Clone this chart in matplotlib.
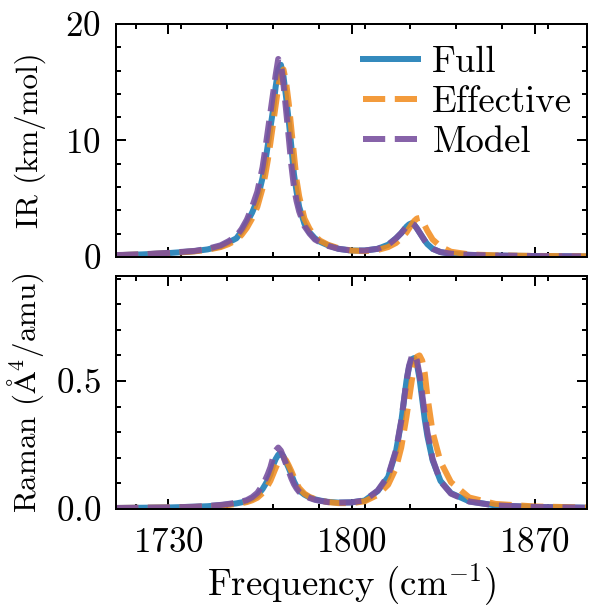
import matplotlib
matplotlib.use("Agg")
import matplotlib.pyplot as plt
from matplotlib.ticker import MultipleLocator

plt.rcParams["font.family"] = "serif"
plt.rcParams["font.serif"] = ["cmr10", "DejaVu Serif"]
plt.rcParams["mathtext.fontset"] = "cm"
plt.rcParams["axes.formatter.use_mathtext"] = True
plt.rcParams["font.size"] = 11

freq = [1710, 1720, 1730, 1740, 1745, 1750, 1753, 1756, 1758, 1760, 1762, 1764, 1766, 1767,
        1768, 1769, 1770, 1771, 1772, 1773, 1774, 1775, 1776, 1777, 1778, 1779, 1780, 1782,
        1784, 1786, 1788, 1791, 1795, 1800, 1805, 1810, 1814, 1817, 1819, 1821, 1822, 1823,
        1824, 1825, 1826, 1827, 1828, 1829, 1831, 1834, 1838, 1845, 1855, 1870, 1890]

# IR intensities (km/mol)
ir_full = [0.15, 0.22, 0.33, 0.5, 0.65, 0.92, 1.25, 1.6, 2.2, 2.95, 3.8, 4.9, 6.8, 8.1,
           9.6, 11.1, 12.6, 14.6, 16.1, 16.5, 15.5, 13.7, 11.7, 9.5, 7.1, 5.6, 4.3, 2.85,
           2.1, 1.6, 1.3, 1.0, 0.7, 0.55, 0.55, 0.7, 1.05, 1.6, 2.05, 2.6, 2.8, 2.9,
           2.75, 2.45, 2.1, 1.75, 1.4, 1.1, 0.7, 0.42, 0.28, 0.18, 0.12, 0.08, 0.05]
ir_eff = [0.15, 0.22, 0.32, 0.48, 0.62, 0.85, 1.1, 1.45, 1.9, 2.5, 3.3, 4.3, 5.9, 7.0,
          8.3, 9.8, 11.4, 13.0, 14.6, 15.7, 16.1, 15.0, 13.2, 11.0, 8.8, 6.6, 5.2, 3.3,
          2.4, 1.8, 1.4, 1.05, 0.75, 0.55, 0.5, 0.6, 0.85, 1.2, 1.6, 2.1, 2.45, 2.8,
          3.1, 3.3, 3.35, 3.1, 2.7, 2.25, 1.5, 0.9, 0.45, 0.22, 0.14, 0.09, 0.06]
ir_model = [0.16, 0.23, 0.35, 0.52, 0.7, 1.0, 1.35, 1.8, 2.4, 3.2, 4.3, 5.6, 7.7, 9.2,
            10.8, 12.4, 14.0, 15.6, 17.0, 16.6, 14.8, 12.6, 10.3, 7.9, 6.0, 4.8, 3.9, 2.65,
            2.0, 1.5, 1.25, 0.95, 0.7, 0.55, 0.55, 0.7, 1.05, 1.6, 2.05, 2.6, 2.8, 2.9,
            2.75, 2.45, 2.1, 1.75, 1.4, 1.1, 0.7, 0.42, 0.28, 0.18, 0.12, 0.08, 0.05]

# Raman activities (A^4/amu)
ram_full = [0.004, 0.005, 0.006, 0.009, 0.011, 0.015, 0.018, 0.022, 0.026, 0.031, 0.04, 0.053,
            0.078, 0.095, 0.113, 0.135, 0.17, 0.195, 0.212, 0.217, 0.205, 0.183, 0.16, 0.135,
            0.108, 0.088, 0.072, 0.056, 0.045, 0.038, 0.033, 0.028, 0.025, 0.026, 0.033, 0.07,
            0.125, 0.225, 0.34, 0.5, 0.555, 0.585, 0.59, 0.565, 0.51, 0.43, 0.35, 0.285,
            0.19, 0.11, 0.062, 0.03, 0.014, 0.008, 0.005]
ram_eff = [0.004, 0.005, 0.006, 0.008, 0.01, 0.013, 0.016, 0.02, 0.023, 0.027, 0.034, 0.044,
           0.062, 0.075, 0.092, 0.11, 0.135, 0.16, 0.183, 0.197, 0.2, 0.19, 0.17, 0.148,
           0.124, 0.1, 0.082, 0.06, 0.047, 0.039, 0.033, 0.027, 0.023, 0.023, 0.03, 0.055,
           0.095, 0.16, 0.24, 0.36, 0.43, 0.5, 0.56, 0.595, 0.6, 0.58, 0.53, 0.44,
           0.3, 0.185, 0.105, 0.045, 0.02, 0.01, 0.006]
ram_model = [0.004, 0.005, 0.006, 0.009, 0.012, 0.016, 0.02, 0.025, 0.029, 0.035, 0.046, 0.063,
             0.093, 0.113, 0.136, 0.163, 0.2, 0.228, 0.24, 0.228, 0.203, 0.175, 0.148, 0.12,
             0.097, 0.08, 0.067, 0.052, 0.043, 0.036, 0.032, 0.027, 0.025, 0.026, 0.034, 0.072,
             0.13, 0.23, 0.345, 0.5, 0.56, 0.595, 0.605, 0.58, 0.525, 0.45, 0.37, 0.3,
             0.195, 0.108, 0.06, 0.029, 0.014, 0.008, 0.005]

labels = ["Full", "Effective", "Model"]
colors = ["#348ABD", "#F28A1A", "#7A52A0"]
styles = ["-", "--", "--"]
alphas = [1.0, 0.85, 0.9]

fig, (ax1, ax2) = plt.subplots(2, 1, sharex=True, figsize=(589 / 240, 608 / 240), dpi=240)
fig.subplots_adjust(left=0.197, right=0.9966, bottom=0.1628, top=0.9605, hspace=0.082)

for ys, lab, c, ls, a in zip([ir_full, ir_eff, ir_model], labels, colors, styles, alphas):
    ax1.plot(freq, ys, ls, color=c, lw=1.8, alpha=a, label=lab)
for ys, lab, c, ls, a in zip([ram_full, ram_eff, ram_model], labels, colors, styles, alphas):
    ax2.plot(freq, ys, ls, color=c, lw=1.8, alpha=a, label=lab)

ax1.set_xlim(1710, 1890)
ax1.set_ylim(0, 20)
ax2.set_ylim(0, 0.91)
ax1.yaxis.set_major_locator(MultipleLocator(10))
ax1.yaxis.set_minor_locator(MultipleLocator(2))
ax2.yaxis.set_major_locator(MultipleLocator(0.5))
ax2.yaxis.set_minor_locator(MultipleLocator(0.1))
ax2.xaxis.set_minor_locator(MultipleLocator(17.5, offset=2.5))
ax2.set_xticks([1730, 1800, 1870])

for ax in (ax1, ax2):
    ax.tick_params(which="both", direction="in", top=True, right=True, width=0.6)
    ax.tick_params(which="major", length=3, labelsize=10.5)
    ax.tick_params(which="minor", length=1.5)
    ax.tick_params(axis="y", pad=4.5)
    ax.tick_params(axis="x", pad=5.5)
    for s in ax.spines.values():
        s.set_linewidth(0.6)

ax1.set_ylabel("IR (km/mol)", fontsize=9.3, labelpad=3)
ax2.set_ylabel(r"Raman ($\mathrm{\AA}^4$/amu)", fontsize=9.3, labelpad=3)
ax2.set_xlabel(r"Frequency (cm$^{-1}$)", fontsize=11, labelpad=1)
fig.align_ylabels([ax1, ax2])

ax1.legend(loc="upper right", bbox_to_anchor=(1.0, 0.97), frameon=False, handlelength=1.5,
           handletextpad=0.38, labelspacing=0.19, borderaxespad=0.0)

fig.savefig("out.png", dpi=240)
